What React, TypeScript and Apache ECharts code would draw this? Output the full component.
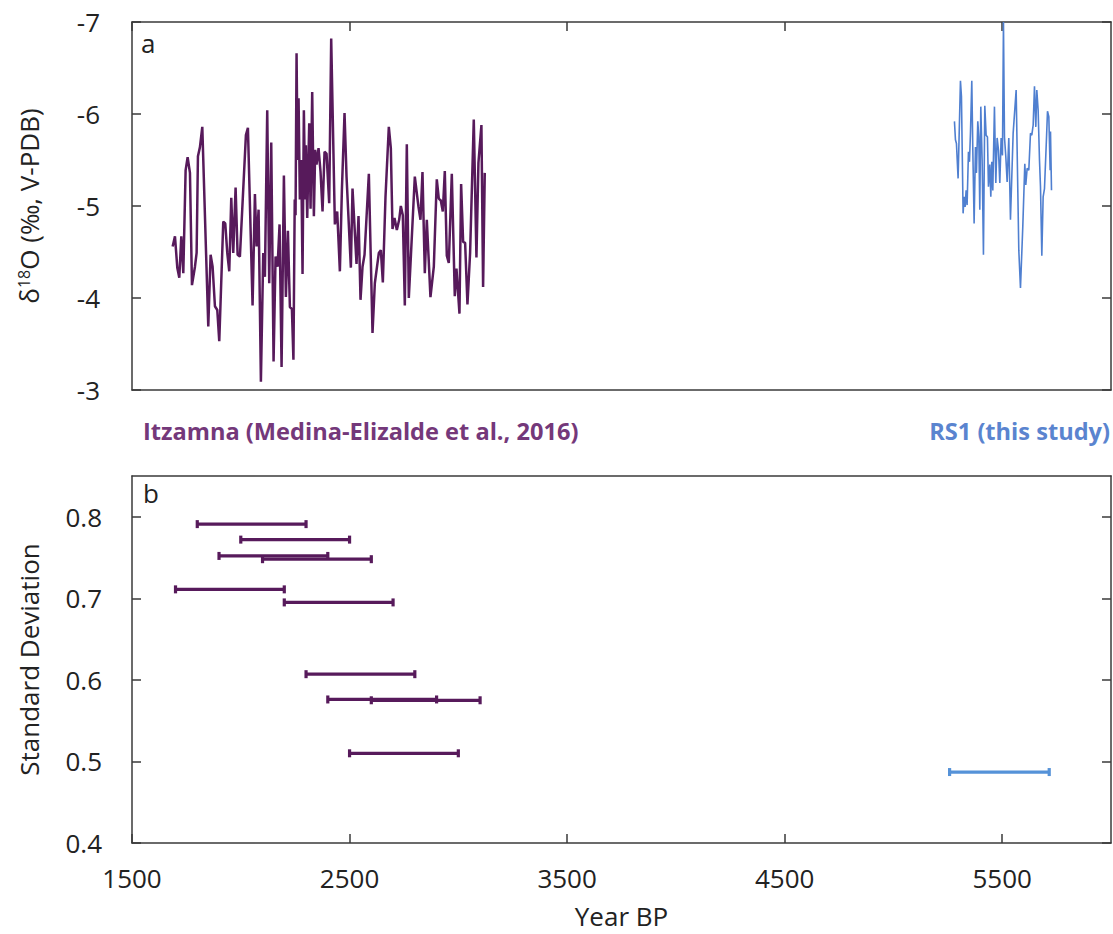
import React, { useEffect, useRef } from "react";
import * as echarts from "echarts";

// ---------- data ----------
const itzamnaYears = [
  1686.8, 1697.5, 1708.2, 1717.4, 1726.6, 1735.8, 1746.5, 1755.7, 1766.4, 1775.6,
  1789.4, 1797.0, 1803.1, 1812.3, 1823.1, 1850.6, 1861.3, 1870.5, 1881.2, 1892.0,
  1901.1, 1919.5, 1928.7, 1937.9, 1947.1, 1956.3, 1965.4, 1976.2, 1985.4, 1996.0,
  2023.6, 2032.8, 2054.2, 2065.0, 2072.6, 2081.8, 2092.5, 2103.3, 2110.9, 2121.6,
  2130.8, 2140.0, 2150.7, 2159.9, 2169.1, 2178.3, 2187.5, 2198.2, 2207.4, 2216.6,
  2225.8, 2235.0, 2242.0, 2248.0, 2251.8, 2256.4, 2261.0, 2265.6, 2271.6, 2277.8,
  2283.9, 2290.0, 2296.2, 2299.2, 2305.4, 2314.6, 2320.7, 2328.3, 2336.0, 2342.1,
  2348.2, 2357.4, 2366.6, 2375.8, 2385.0, 2394.2, 2406.4, 2415.6, 2432.5, 2443.2,
  2455.5, 2464.7, 2476.9, 2486.1, 2506.0, 2513.6, 2532.0, 2541.2, 2550.4, 2559.6,
  2568.8, 2588.7, 2605.5, 2616.2, 2634.6, 2643.8, 2653.0, 2665.2, 2680.5, 2689.7,
  2697.4, 2706.6, 2717.3, 2728.0, 2735.7, 2744.8, 2754.0, 2763.2, 2772.4, 2800.0,
  2816.8, 2826.0, 2835.2, 2845.9, 2855.1, 2871.9, 2887.3, 2901.0, 2910.2, 2919.4,
  2928.6, 2937.8, 2947.0, 2956.2, 2970.0, 2983.7, 2991.4, 3005.2, 3012.8, 3022.0,
  3031.2, 3041.9, 3054.1, 3071.0, 3083.2, 3092.4, 3106.1, 3113.8, 3121.5,
];
const itzamnaD18O = [
  -4.56, -4.67, -4.33, -4.22, -4.67, -4.27, -5.39, -5.53, -5.36, -4.14,
  -4.34, -4.49, -5.54, -5.64, -5.86, -3.69, -4.47, -4.34, -3.91, -3.87,
  -3.53, -4.83, -4.81, -4.49, -4.29, -5.09, -4.49, -5.20, -4.47, -4.45,
  -5.77, -5.85, -3.92, -5.13, -4.56, -4.96, -3.09, -4.49, -4.23, -6.04,
  -4.16, -5.69, -3.31, -4.45, -4.34, -4.80, -3.25, -5.33, -4.01, -4.73,
  -3.90, -3.88, -3.33, -5.07, -4.90, -6.66, -5.50, -6.17, -5.07, -5.50,
  -4.26, -6.04, -5.07, -5.66, -4.87, -5.90, -4.97, -6.24, -4.89, -5.61,
  -5.45, -5.63, -5.37, -4.94, -5.59, -5.57, -5.03, -6.82, -4.80, -4.94,
  -4.29, -5.17, -6.01, -5.32, -4.33, -5.19, -4.37, -4.89, -3.98, -4.34,
  -4.47, -5.35, -3.62, -4.16, -4.49, -4.52, -4.17, -5.10, -5.86, -5.63,
  -4.75, -4.87, -4.74, -4.85, -5.00, -4.90, -3.92, -5.67, -4.00, -5.32,
  -4.99, -4.85, -5.37, -4.27, -4.85, -4.01, -4.34, -5.29, -5.08, -5.06,
  -4.94, -5.38, -4.46, -4.38, -5.35, -4.02, -4.32, -3.83, -5.24, -4.61,
  -4.60, -3.93, -4.49, -5.94, -4.44, -5.47, -5.88, -4.12, -5.36,
];

const rs1Years = [
  5280.4, 5285.0, 5289.6, 5297.2, 5308.0, 5312.6, 5320.2, 5324.8, 5329.4, 5334.0,
  5338.6, 5344.8, 5349.4, 5354.0, 5360.1, 5364.7, 5370.8, 5377.0, 5381.5, 5387.7,
  5392.3, 5396.9, 5401.5, 5407.6, 5413.7, 5419.9, 5426.0, 5432.1, 5436.7, 5442.9,
  5447.5, 5452.1, 5456.7, 5464.3, 5470.5, 5476.6, 5482.7, 5488.9, 5495.0, 5501.1,
  5505.7, 5510.3, 5516.4, 5522.6, 5530.2, 5537.9, 5550.2, 5564.0, 5576.2, 5583.9,
  5594.6, 5603.8, 5608.4, 5614.6, 5622.2, 5629.9, 5636.0, 5642.2, 5648.3, 5654.4,
  5659.0, 5665.1, 5671.3, 5675.9, 5682.0, 5688.1, 5694.3, 5703.5, 5708.1, 5714.2,
  5720.3, 5721.9, 5726.5,
];
const rs1D18O = [
  -5.92, -5.72, -5.68, -5.30, -6.36, -6.19, -4.92, -5.10, -4.99, -5.17,
  -5.01, -5.59, -5.48, -5.79, -6.36, -5.63, -4.81, -5.64, -5.36, -5.92,
  -5.75, -4.96, -6.08, -5.50, -4.47, -6.09, -5.77, -5.75, -5.21, -5.45,
  -5.10, -5.48, -5.17, -6.08, -5.25, -5.74, -5.61, -5.25, -5.74, -5.55,
  -7.00, -5.75, -5.54, -5.26, -5.74, -4.85, -5.79, -6.26, -4.52, -4.11,
  -4.78, -5.46, -5.23, -5.41, -5.39, -5.79, -5.77, -5.88, -6.30, -5.86,
  -6.26, -6.04, -5.50, -5.21, -4.46, -5.10, -5.19, -5.74, -6.03, -5.97,
  -5.39, -5.81, -5.17,
];

// standard deviation windows: start year, end year, SD
const itzamnaWinStart = [1800, 2000, 1900, 2100, 1700, 2200, 2300, 2400, 2600, 2500];
const itzamnaWinEnd = [2300, 2500, 2400, 2600, 2200, 2700, 2800, 2900, 3100, 3000];
const itzamnaSD = [0.791, 0.772, 0.752, 0.748, 0.711, 0.695, 0.607, 0.576, 0.575, 0.510];
const rs1WinStart = [5258];
const rs1WinEnd = [5716];
const rs1SD = [0.487];

const xTickValues = [1500, 2500, 3500, 4500, 5500];
const topYTicks = [-7, -6, -5, -4, -3];
const bottomYTicks = [0.4, 0.5, 0.6, 0.7, 0.8];

const FONT = "'Open Sans', 'Noto Sans', sans-serif";
const PURPLE = "#571a5b";
const BLUE = "#4f7fd0";
const BAR_BLUE = "#5592d8";
const AXIS = "#3a3a3a";

export default function App() {
  const ref = useRef<HTMLDivElement>(null);

  useEffect(() => {
    document.body.style.margin = "0";
    if (!ref.current) return;
    const chart = echarts.init(ref.current, undefined, { renderer: "svg" });

    const itzData = itzamnaYears.map((y, i) => [y, itzamnaD18O[i]]);
    const rsData = rs1Years.map((y, i) => [y, rs1D18O[i]]);
    const itzBars = itzamnaSD.map((s, i) => [itzamnaWinStart[i], itzamnaWinEnd[i], s]);
    const rsBars = rs1SD.map((s, i) => [rs1WinStart[i], rs1WinEnd[i], s]);

    const makeBars = (color: string) => (params: any, api: any) => {
      const a = api.coord([api.value(0), api.value(2)]);
      const b = api.coord([api.value(1), api.value(2)]);
      const st = { stroke: color, lineWidth: 3.2 };
      return {
        type: "group",
        children: [
          { type: "line", shape: { x1: a[0], y1: a[1], x2: b[0], y2: b[1] }, style: st },
          { type: "line", shape: { x1: a[0], y1: a[1] - 4, x2: a[0], y2: a[1] + 4 }, style: st },
          { type: "line", shape: { x1: b[0], y1: b[1] - 4, x2: b[0], y2: b[1] + 4 }, style: st },
        ],
      };
    };

    const axisLine = { show: true, lineStyle: { color: AXIS, width: 1.5 } };
    const labelStyle = { color: "#222", fontSize: 26, fontFamily: FONT };

    const option: any = {
      animation: false,
      backgroundColor: "#ffffff",
      grid: [
        { left: 132, top: 22, width: 979, height: 368 },
        { left: 132, top: 476, width: 979, height: 367 },
      ],
      xAxis: [
        {
          type: "value", gridIndex: 0, min: 1500, max: 6000, position: "bottom",
          axisLine, axisTick: { show: false }, axisLabel: { show: false }, splitLine: { show: false },
        },
        {
          type: "value", gridIndex: 0, min: 1500, max: 6000, position: "top",
          axisLine,
          axisTick: { show: true, inside: true, length: 9, customValues: xTickValues, lineStyle: { color: AXIS, width: 1.5 } },
          axisLabel: { show: false }, splitLine: { show: false },
        },
        {
          type: "value", gridIndex: 1, min: 1500, max: 6000, position: "bottom",
          axisLine,
          axisTick: { show: true, inside: true, length: 9, customValues: xTickValues, lineStyle: { color: AXIS, width: 1.5 } },
          axisLabel: { ...labelStyle, margin: 22, customValues: xTickValues, formatter: (v: number) => String(v) },
          splitLine: { show: false },
          name: "Year BP", nameLocation: "middle", nameGap: 60,
          nameTextStyle: { color: "#222", fontSize: 26, fontFamily: FONT },
        },
        {
          type: "value", gridIndex: 1, min: 1500, max: 6000, position: "top",
          axisLine, axisTick: { show: false }, axisLabel: { show: false }, splitLine: { show: false },
        },
      ],
      yAxis: [
        {
          type: "value", gridIndex: 0, min: -7, max: -3, inverse: true, position: "left",
          axisLine,
          axisTick: { show: true, inside: true, length: 9, customValues: topYTicks, lineStyle: { color: AXIS, width: 1.5 } },
          axisLabel: { ...labelStyle, margin: 32, customValues: topYTicks, formatter: (v: number) => String(v) },
          splitLine: { show: false },
          name: "{a|δ}{s|18}{a|O (‰, V-PDB)}", nameLocation: "middle", nameGap: 90, nameRotate: 90,
          nameTextStyle: {
            rich: {
              a: { fontSize: 26, fontFamily: FONT, color: "#222" },
              s: { fontSize: 16, fontFamily: FONT, color: "#222", verticalAlign: "top" },
            },
          },
        },
        {
          type: "value", gridIndex: 0, min: -7, max: -3, inverse: true, position: "right",
          axisLine,
          axisTick: { show: true, inside: true, length: 9, customValues: topYTicks, lineStyle: { color: AXIS, width: 1.5 } },
          axisLabel: { show: false }, splitLine: { show: false },
        },
        {
          type: "value", gridIndex: 1, min: 0.4, max: 0.85, position: "left",
          axisLine,
          axisTick: { show: true, inside: true, length: 9, customValues: bottomYTicks, lineStyle: { color: AXIS, width: 1.5 } },
          axisLabel: { ...labelStyle, margin: 30, customValues: bottomYTicks, formatter: (v: number) => v.toFixed(1) },
          splitLine: { show: false },
          name: "Standard Deviation", nameLocation: "middle", nameGap: 90, nameRotate: 90,
          nameTextStyle: { color: "#222", fontSize: 26, fontFamily: FONT },
        },
        {
          type: "value", gridIndex: 1, min: 0.4, max: 0.85, position: "right",
          axisLine,
          axisTick: { show: true, inside: true, length: 9, customValues: bottomYTicks, lineStyle: { color: AXIS, width: 1.5 } },
          axisLabel: { show: false }, splitLine: { show: false },
        },
      ],
      series: [
        {
          type: "line", xAxisIndex: 0, yAxisIndex: 0, data: itzData, showSymbol: false, symbol: "none",
          lineStyle: { color: PURPLE, width: 2.5 }, clip: true,
        },
        {
          type: "line", xAxisIndex: 0, yAxisIndex: 0, data: rsData, showSymbol: false, symbol: "none",
          lineStyle: { color: BLUE, width: 1.6 }, clip: true,
        },
        {
          type: "custom", xAxisIndex: 2, yAxisIndex: 2, data: itzBars,
          encode: { x: [0, 1], y: 2 }, renderItem: makeBars(PURPLE),
        },
        {
          type: "custom", xAxisIndex: 2, yAxisIndex: 2, data: rsBars,
          encode: { x: [0, 1], y: 2 }, renderItem: makeBars(BAR_BLUE),
        },
      ],
      graphic: [
        { type: "text", left: 141, top: 30, style: { text: "a", fontSize: 26, fontFamily: FONT, fill: "#222" } },
        { type: "text", left: 143, top: 480, style: { text: "b", fontSize: 26, fontFamily: FONT, fill: "#222" } },
        {
          type: "text", left: 143, top: 419,
          style: { text: "Itzamna (Medina-Elizalde et al., 2016)", fontSize: 23.6, fontWeight: "bold", fontFamily: FONT, fill: "#74387a" },
        },
        {
          type: "text", right: 3, top: 419,
          style: { text: "RS1 (this study)", fontSize: 23.6, fontWeight: "bold", fontFamily: FONT, fill: "#5a84cf" },
        },
      ],
    };

    chart.setOption(option);
    return () => chart.dispose();
  }, []);

  return <div ref={ref} style={{ width: 1113, height: 934 }} />;
}
